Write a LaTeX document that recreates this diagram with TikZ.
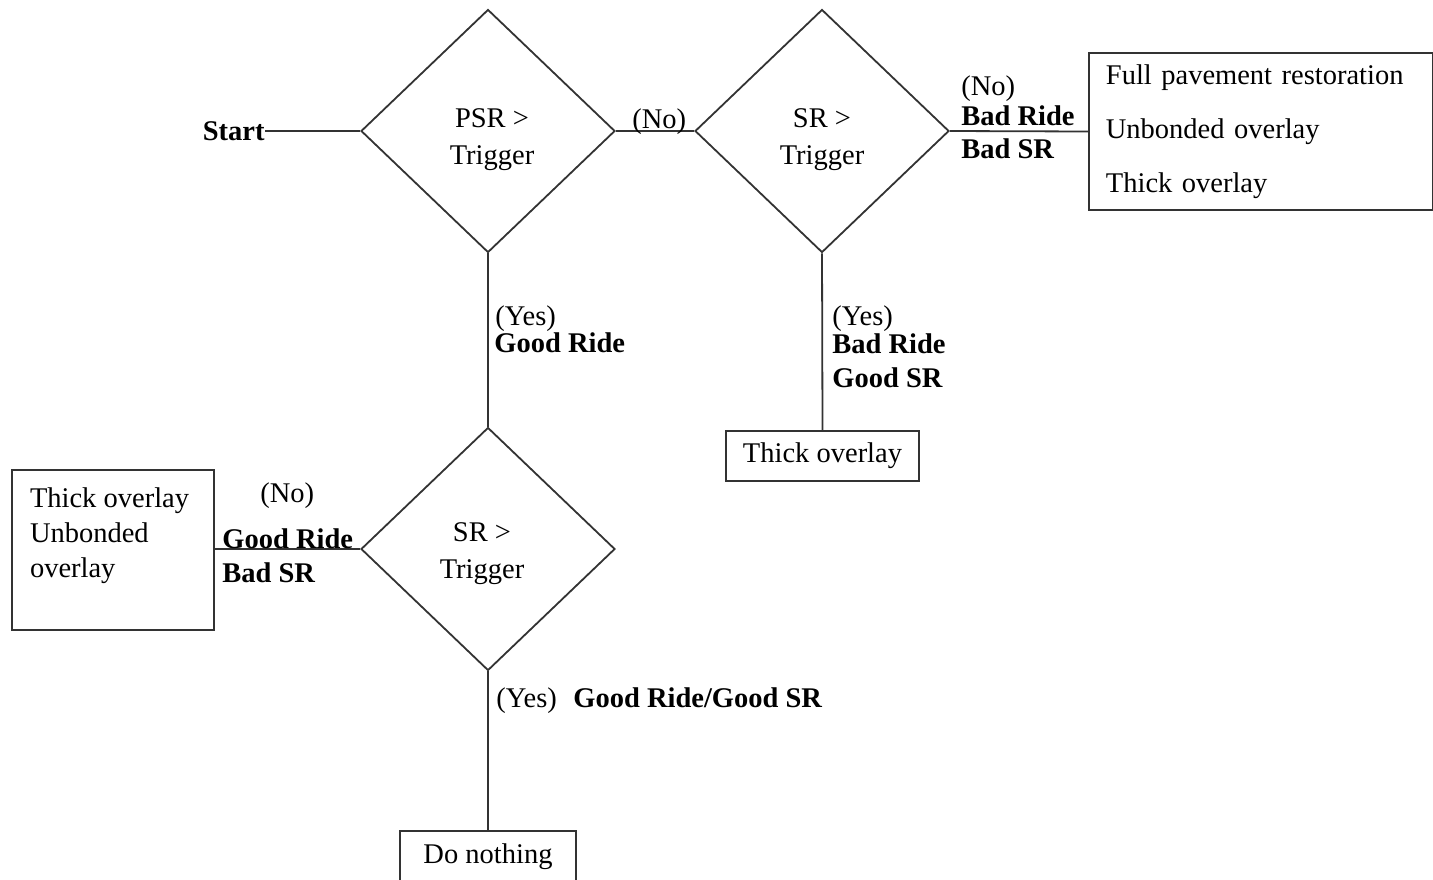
\documentclass[tikz,border=0pt]{standalone}
\usepackage{fontspec}
\setmainfont{Liberation Serif}
\usepackage{xcolor}
\usepackage{tikz}
\usetikzlibrary{shapes.geometric}

\begin{document}
\begin{tikzpicture}[x=0.5pt,y=-0.5pt,
  font=\fontsize{14.25}{17.5}\selectfont,
  dec/.style={diamond, draw=black!80, line width=0.9pt, minimum width=127pt, minimum height=121.5pt, inner sep=0pt},
  dectxt/.style={align=center, inner sep=0pt, yshift=-4.5pt},
  res/.style={rectangle, draw=black!80, line width=0.9pt},
  lbl/.style={anchor=base west, inner sep=0pt},
  conn/.style={draw=black!80, line width=0.9pt}]
\useasboundingbox (0,0) rectangle (1433,879);

\node[anchor=east, inner sep=0pt] (start) at (265,131) {\textbf{Start}};
\node[dec] (psr) at (488,131) {};
\node[dectxt, xshift=2pt] (psrtxt) at (psr) {PSR >\\[1pt]Trigger};
\node[dec] (srtop) at (822,131) {};
\node[dectxt] (srtoptxt) at (srtop) {SR >\\[1pt]Trigger};
\node[dec] (srlow) at (488,549) {};
\node[dectxt, xshift=-3pt, yshift=2pt] (srlowtxt) at (srlow) {SR >\\[1pt]Trigger};

\node[res, anchor=west, minimum height=78.5pt, text width=155pt, inner xsep=8.5pt, align=left] (fullbox) at (1088,131.5) {Full pavement restoration\\[9.5pt]Unbonded overlay\\[9.5pt]Thick overlay};
\node[res, minimum width=96.5pt, minimum height=25pt, anchor=north] (thickbox) at (822.5,430) {Thick overlay};
\node[res, inner sep=9pt] (leftbox) at (113,550) {\parbox[c][62pt][t]{83pt}{\raggedright Thick overlay\\Unbonded\\overlay}};
\node[res, minimum width=88pt, minimum height=26pt, anchor=north] (nothingbox) at (488,830) {Do nothing};

\draw[conn] (start.east) -- (psr.west);
\draw[conn] (psr.east) -- (srtop.west);
\draw[conn] (srtop.east) -- (fullbox.west);
\draw[conn] (psr.south) -- (srlow.north);
\draw[conn] (srtop.south) -- (thickbox.north);
\draw[conn] (srlow.west) -- (srlow.west -| leftbox.east);
\draw[conn] (srlow.south) -- (nothingbox.north);

\node[lbl] (nomid) at (632,128) {(No)};
\node[lbl] (notop) at (961,95) {(No)};
\node[lbl] (badridetop) at (961,125) {\textbf{Bad Ride}};
\node[lbl] (badsrtop) at (961,158) {\textbf{Bad SR}};
\node[lbl] (yesleft) at (495,325) {(Yes)};
\node[lbl] (goodrideleft) at (494,352) {\textbf{Good Ride}};
\node[lbl] (yesright) at (832,325) {(Yes)};
\node[lbl] (badrideright) at (832,353) {\textbf{Bad Ride}};
\node[lbl] (goodsrright) at (832,387) {\textbf{Good SR}};
\node[lbl] (nolow) at (260,502) {(No)};
\node[lbl] (goodridelow) at (222,548) {\textbf{Good Ride}};
\node[lbl] (badsrlow) at (222,582) {\textbf{Bad SR}};
\node[lbl] (yeslow) at (496,707) {(Yes)};
\node[lbl] (goodgood) at (573,707) {\textbf{Good Ride/Good SR}};
\end{tikzpicture}
\end{document}
